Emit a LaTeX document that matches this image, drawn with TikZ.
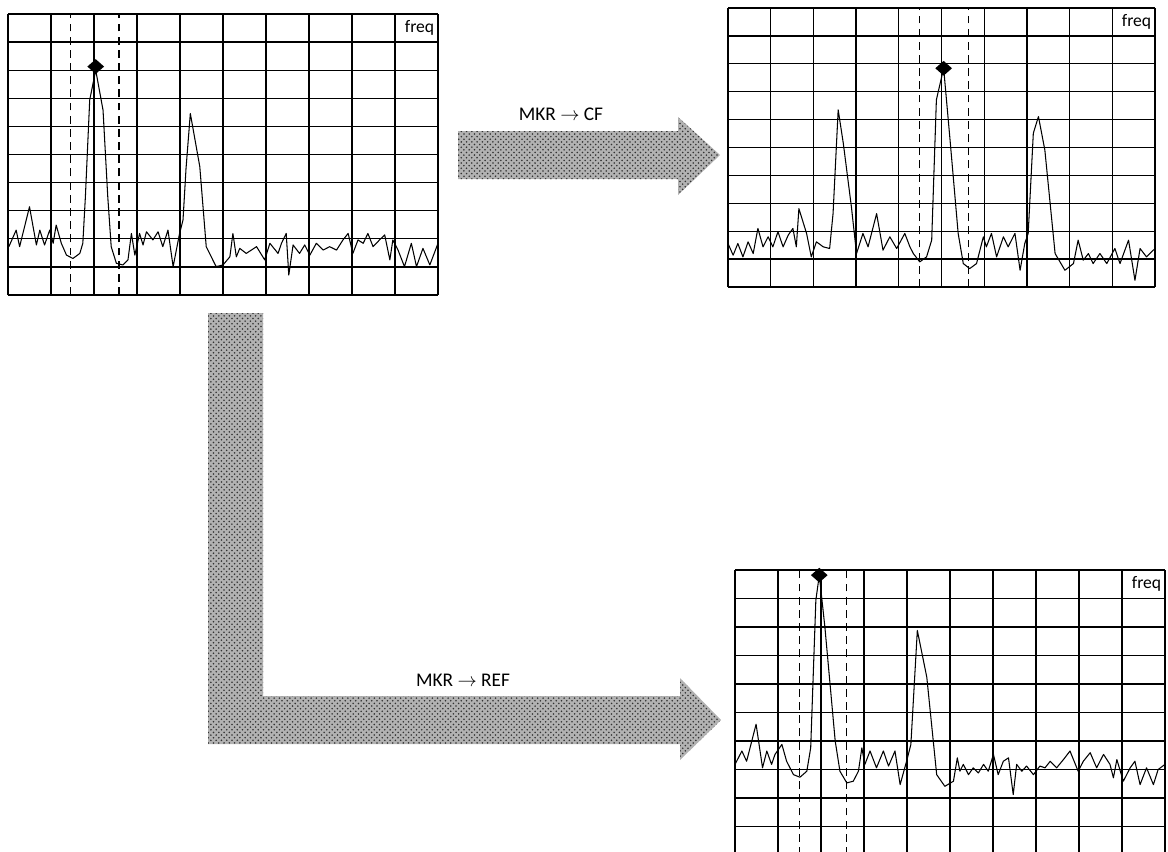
\documentclass[tikz,border=0pt]{standalone}
\usepackage{fontspec}
\setmainfont{Carlito}
\usepackage{tikz}
\usetikzlibrary{shapes.geometric,patterns}
\tikzset{
  scrgrid/.style={line width=0.75pt,step=1},
  trace/.style={line width=0.6pt,line join=round},
  mkrline/.style={line width=0.75pt,dash pattern=on 4.5pt off 3pt},
  mkr/.style={diamond,fill=black,inner sep=0pt,minimum width=0.34cm,minimum height=0.3cm},
  freqlbl/.style={font=\normalsize,anchor=east,inner sep=2pt},
  fatarrow/.style={preaction={fill=black!30},pattern=crosshatch dots,pattern color=black!80},
  keylbl/.style={font=\fontsize{11}{13}\selectfont}
}

\begin{document}
\begin{tikzpicture}
\useasboundingbox (0,0) rectangle (23.36,-17.02);

% wide arrows
\fill[fatarrow] (9.16,-2.62) -- (13.56,-2.62) -- (13.56,-2.34) -- (14.40,-3.10)
  -- (13.56,-3.90) -- (13.56,-3.58) -- (9.16,-3.58) -- cycle;
\fill[fatarrow] (4.16,-6.26) -- (5.26,-6.26) -- (5.26,-13.92) -- (13.60,-13.92)
  -- (13.60,-13.56) -- (14.42,-14.40) -- (13.60,-15.20) -- (13.60,-14.88)
  -- (4.16,-14.88) -- cycle;
\node[keylbl] (lblcf) at (11.22,-2.28) {MKR $\rightarrow$ CF};
\node[keylbl] (lblref) at (9.26,-13.60) {MKR $\rightarrow$ REF};

% screen before
\begin{scope}[shift={(0.16,-5.90)},x=0.86cm,y=0.562cm]
\draw[scrgrid] (0,0) grid (10,10);
\draw[mkrline] (1.46,0) -- (1.46,10);
\draw[mkrline] (2.58,0) -- (2.58,10);
\draw[trace] plot coordinates {(0.02,1.72) (0.19,2.31) (0.27,1.72) (0.50,3.14)
  (0.66,1.78) (0.74,2.31) (0.85,1.78) (0.97,2.31) (1.05,1.84) (1.12,2.49)
  (1.24,1.84) (1.36,1.42) (1.51,1.30) (1.67,1.48) (1.74,1.84) (1.80,3.5)
  (1.90,6.94) (2.04,8.0) (2.21,6.58) (2.32,3.5) (2.40,1.72) (2.52,1.13)
  (2.67,1.07) (2.79,1.25) (2.87,2.19) (2.95,1.42) (3.06,2.19) (3.14,1.78)
  (3.22,2.25) (3.37,1.96) (3.49,2.25) (3.60,1.72) (3.72,2.31) (3.84,1.01)
  (3.99,2.19) (4.07,2.67) (4.14,4.5) (4.24,6.46) (4.46,4.57) (4.61,1.72)
  (4.84,1.01) (5.0,1.07) (5.16,1.36) (5.23,2.19) (5.31,1.36) (5.39,1.66)
  (5.54,1.48) (5.78,1.72) (5.97,1.25) (6.09,1.84) (6.28,1.48) (6.36,1.84)
  (6.47,2.19) (6.53,0.71) (6.63,1.78) (6.78,1.48) (6.90,1.78) (7.02,1.42)
  (7.17,1.84) (7.33,1.60) (7.48,1.72) (7.64,1.60) (7.79,1.96) (7.91,2.19)
  (8.02,1.48) (8.14,1.96) (8.26,1.84) (8.37,2.19) (8.49,1.72) (8.64,1.96)
  (8.76,2.14) (8.88,1.25) (8.95,1.96) (9.07,1.60) (9.22,1.01) (9.38,1.84)
  (9.50,1.01) (9.65,1.66) (9.81,1.07) (10.0,1.84)};
\node[mkr] (mkra) at (2.04,8.13) {};
\node[freqlbl] (frqa) at (10,9.5) {freq};
\end{scope}

% screen after MKR -> CF
\begin{scope}[shift={(14.56,-5.74)},x=0.854cm,y=0.558cm]
\draw[scrgrid] (0,0) grid (10,10);
\draw[mkrline] (4.48,0) -- (4.48,10);
\draw[mkrline] (5.63,0) -- (5.63,10);
\draw[trace] plot coordinates {(0,1.56) (0.12,1.14) (0.23,1.56) (0.35,1.08)
  (0.47,1.62) (0.59,1.20) (0.70,2.10) (0.82,1.44) (0.94,1.80) (1.05,1.44)
  (1.17,1.98) (1.29,1.44) (1.41,1.86) (1.52,2.10) (1.60,1.44) (1.66,2.81)
  (1.84,1.92) (1.95,1.08) (2.07,1.62) (2.23,1.44) (2.38,1.38) (2.46,2.63)
  (2.58,6.35) (2.70,5.15) (2.89,2.87) (3.01,1.20) (3.16,1.92) (3.28,1.44)
  (3.48,2.63) (3.63,1.32) (3.79,1.80) (3.95,1.38) (4.14,1.92) (4.26,1.44)
  (4.34,1.20) (4.49,0.90) (4.65,1.08) (4.77,1.68) (4.88,6.71) (5.05,7.84)
  (5.20,5.27) (5.39,1.92) (5.51,0.84) (5.66,0.66) (5.82,0.84) (5.98,1.80)
  (6.05,1.44) (6.17,1.92) (6.29,1.08) (6.45,1.80) (6.56,1.44) (6.72,1.92)
  (6.84,0.60) (6.95,1.56) (7.03,1.92) (7.15,5.51) (7.27,6.11) (7.42,4.91)
  (7.66,1.20) (7.89,0.60) (8.09,0.84) (8.20,1.68) (8.32,0.96) (8.44,1.20)
  (8.55,0.84) (8.71,1.20) (8.87,0.84) (9.06,1.38) (9.18,0.84) (9.38,1.68)
  (9.53,0.24) (9.65,1.38) (9.80,1.08) (10.0,1.38)};
\node[mkr] (mkrb) at (5.05,7.84) {};
\node[freqlbl] (frqb) at (10,9.5) {freq};
\end{scope}

% screen after MKR -> REF
\begin{scope}[shift={(14.70,-17.10)},x=0.86cm,y=0.57cm]
\draw[scrgrid] (0,0) grid (10,10);
\draw[mkrline] (1.50,0) -- (1.50,10);
\draw[mkrline] (2.60,0) -- (2.60,10);
\draw[trace] plot coordinates {(0,3.18) (0.16,3.65) (0.27,3.29) (0.49,4.59)
  (0.64,3.06) (0.74,3.65) (0.85,3.18) (0.93,3.53) (1.09,3.88) (1.20,3.29)
  (1.36,2.82) (1.51,2.73) (1.67,2.94) (1.76,3.76) (1.88,8.94) (1.96,9.82)
  (2.09,8.0) (2.33,4.0) (2.44,2.94) (2.60,2.53) (2.75,2.59) (2.87,2.94)
  (2.95,3.76) (3.02,3.18) (3.14,3.65) (3.29,3.06) (3.45,3.65) (3.57,3.12)
  (3.72,3.65) (3.84,2.47) (3.99,3.29) (4.09,3.88) (4.24,7.88) (4.46,6.24)
  (4.69,2.82) (4.88,2.41) (5.08,2.59) (5.17,3.41) (5.23,2.94) (5.31,3.18)
  (5.43,2.82) (5.54,3.06) (5.66,2.88) (5.78,3.18) (5.89,2.94) (6.01,3.53)
  (6.12,2.82) (6.24,3.29) (6.36,3.41) (6.47,2.12) (6.55,3.18) (6.67,2.94)
  (6.78,3.12) (6.94,2.82) (7.09,3.12) (7.21,3.06) (7.33,3.29) (7.48,3.06)
  (7.67,3.41) (7.79,3.65) (7.98,2.94) (8.10,3.29) (8.26,3.59) (8.41,3.06)
  (8.57,3.53) (8.72,3.18) (8.80,2.71) (8.88,3.35) (9.03,2.59) (9.19,3.06)
  (9.30,3.29) (9.42,2.47) (9.57,3.06) (9.73,2.47) (9.84,3.0) (10.0,3.18)};
\node[mkr] (mkrc) at (1.96,9.82) {};
\node[freqlbl] (frqc) at (10,9.5) {freq};
\end{scope}
\end{tikzpicture}
\end{document}
